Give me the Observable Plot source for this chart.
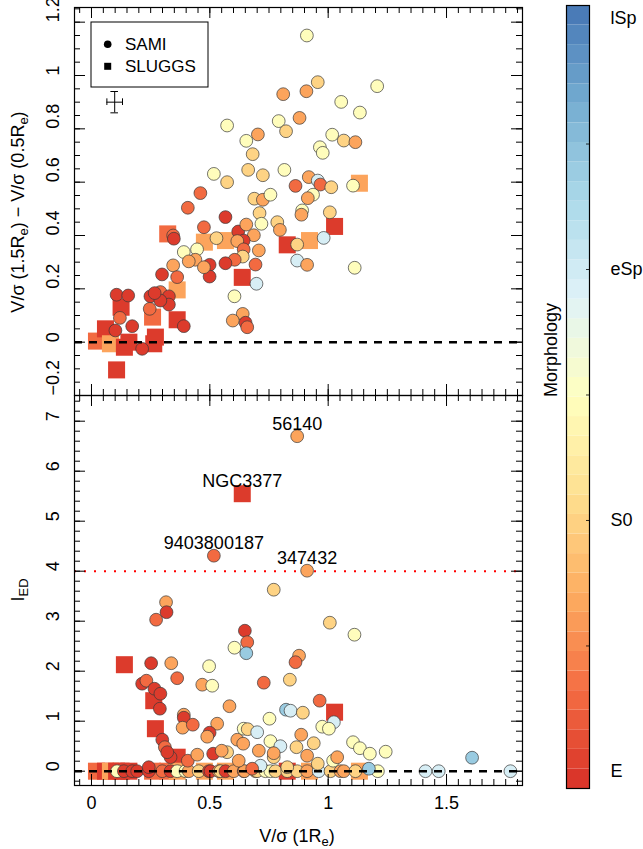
<!DOCTYPE html>
<html>
<head>
<meta charset="utf-8">
<script src="https://cdn.jsdelivr.net/npm/d3@7"></script>
<script src="https://cdn.jsdelivr.net/npm/@observablehq/plot@0.6"></script>
<style>
  body { margin: 0; background: #fff; }
  #wrap { position: relative; width: 643px; height: 849px; font-family: "Liberation Sans", Arial, Helvetica, sans-serif; }
  #wrap > div { position: absolute; }
</style>
</head>
<body>
<div id="wrap"></div>
<script>
(function () {
// ---- morphology codes (E=0, S0=1, eSp=2, lSp=3) ----
const R = 0, RO = 0.3, O = 0.65, LO = 1.0, PY = 1.47, LB = 1.95, B = 2.4;

// ---- SAMI, upper panel: [V/sigma(1Re), dV/sigma, morphology] ----
const samiTop = [
  [0.91,1.15,PY],[0.956,0.975,LO],[0.908,0.941,O],[0.81,0.93,O],[1.207,0.96,PY],[1.055,0.901,PY],
  [1.134,0.861,PY],[0.879,0.841,O],[0.791,0.829,PY],[0.822,0.791,LO],[0.573,0.8125,PY],[0.703,0.779,O],
  [0.654,0.755,PY],[1.017,0.778,PY],[1.066,0.756,LO],[1.115,0.75,O],[0.965,0.731,PY],[0.977,0.71,PY],
  [0.681,0.705,LO],[0.662,0.646,LO],[0.724,0.626,LO],[0.815,0.646,PY],[0.517,0.631,PY],[0.573,0.6,LO],
  [0.46,0.559,RO],[0.862,0.586,RO],[0.918,0.619,O],[0.956,0.606,LB],[0.967,0.591,RO],[1.013,0.581,LO],
  [1.105,0.587,PY],[0.936,0.553,PY],[0.914,0.54,O],[0.688,0.538,LO],[0.724,0.534,O],[0.756,0.553,PY],
  [0.71,0.484,LO],[0.718,0.444,PY],[0.785,0.45,LO],[0.796,0.421,O],[0.566,0.469,R],[0.475,0.431,RO],
  [0.407,0.504,RO],[0.528,0.39,LO],[0.62,0.415,R],[0.654,0.441,O],[0.686,0.401,O],[0.643,0.381,R],
  [0.616,0.379,O],[0.643,0.348,RO],[0.639,0.321,LO],[0.707,0.344,O],[0.605,0.309,RO],[0.566,0.296,R],
  [0.693,0.291,RO],[0.499,0.29,R],[0.499,0.246,R],[0.697,0.219,LB],[0.604,0.172,PY],[0.639,0.106,O],
  [0.597,0.081,O],[0.651,0.073,R],[0.658,0.056,RO],[0.869,0.366,LO],[0.981,0.391,LB],[1.007,0.487,LO],
  [0.89,0.494,PY],[0.887,0.478,O],[0.869,0.306,LB],[0.911,0.29,O],[1.112,0.279,PY],[0.446,0.348,PY],
  [0.39,0.338,PY],[0.439,0.309,O],[0.475,0.281,O],[0.411,0.303,O],[0.345,0.288,O],[0.362,0.244,RO],
  [0.298,0.254,R],[0.345,0.4,RO],[0.348,0.388,R],[0.249,0.172,R],[0.291,0.188,RO],[0.327,0.172,R],
  [0.327,0.141,R],[0.291,0.156,R],[0.267,0.184,R],[0.246,0.125,RO],[0.39,0.06,R],[0.106,0.178,R],
  [0.155,0.175,R],[0.12,0.091,RO],[0.172,0.06,R],[0.101,0.044,R],[0.214,-0.025,R]
];

// ---- SAMI, lower panel: [V/sigma(1Re), I_ED, morphology] ----
const samiBottom = [
  [0.108,0,PY],[0.137,0,R],[0.172,0,R],[0.193,0,R],[0.242,0,R],[0.299,0,RO],[0.334,0,R],[0.362,0,PY],
  [0.397,0,PY],[0.411,0,O],[0.453,0,LO],[0.496,0,R],[0.503,0,R],[0.538,0,O],[0.545,0,LO],[0.566,0,R],
  [0.601,0,O],[0.643,0,RO],[0.646,0,O],[0.693,0,O],[0.7,0,LO],[0.735,0,PY],[0.756,0,PY],[0.777,0,LO],
  [0.827,0,LO],[0.869,0,LO],[0.911,0,O],[0.96,0,LB],[1.01,0,LO],[1.052,0,O],[1.066,0,O],[1.115,0,LO],
  [1.21,0,PY],[1.411,0,LB],[1.467,0,LB],[1.77,0,LB],
  [0.242,0.08,R],[0.334,0.28,R],[0.407,0.21,RO],[0.622,0.21,O],[0.714,0.11,LB],[0.77,0.28,LO],
  [0.827,0.08,LO],[1.172,0.05,B],[0.679,0.05,RO],[0.956,0.15,LO],[1.021,0.21,PY],
  [0.869,6.7,O],[0.517,4.31,RO],[0.911,4.01,O],[0.77,3.63,LO],[0.315,3.38,O],[0.317,3.18,R],
  [0.273,3.03,RO],[1.007,2.97,LO],[1.111,2.73,PY],[0.648,2.81,R],[0.658,2.58,RO],[0.654,2.36,B],
  [0.604,2.47,PY],[0.497,2.1,PY],[0.252,2.16,R],[0.337,2.16,O],[0.362,1.86,RO],[0.214,1.75,R],
  [0.232,1.81,RO],[0.266,1.65,R],[0.291,1.55,R],[0.289,1.25,R],[0.468,1.73,O],[0.51,1.71,PY],
  [0.728,1.77,RO],[0.838,1.83,LO],[0.877,2.31,O],[0.862,2.18,RO],[0.583,1.3,O],[0.752,1.05,PY],
  [0.822,1.23,B],[0.841,1.21,LB],[0.893,1.17,LO],[0.964,1.41,RO],[1.024,0.98,LB],[0.975,0.89,PY],
  [1.003,0.85,PY],[0.39,1.13,O],[0.39,1.07,R],[0.385,0.87,O],[0.428,0.93,RO],[0.299,0.63,R],
  [0.31,0.48,RO],[0.32,0.38,R],[0.531,0.95,O],[0.499,0.77,R],[0.489,0.69,O],[0.447,0.33,O],
  [0.514,0.35,R],[0.573,0.38,LO],[0.55,0.41,O],[0.616,0.63,O],[0.643,0.85,PY],[0.66,0.84,LO],
  [0.7,0.78,LB],[0.641,0.55,O],[0.707,0.41,O],[0.756,0.6,PY],[0.798,0.5,LB],[0.77,0.36,O],
  [0.866,0.48,LO],[0.886,0.73,O],[0.939,0.56,LO],[0.911,0.31,O],[1.038,0.28,O],[1.105,0.58,PY],
  [1.134,0.46,PY],[1.176,0.35,PY],[1.243,0.39,PY],[1.608,0.27,B]
];

// ---- SLUGGS (same galaxies in both panels) ----
const sluggsX     = [0.021,0.059,0.08,0.106,0.125,0.139,0.158,0.258,0.263,0.27,0.322,0.362,0.362,0.477,0.566,0.637,0.827,0.921,1.027,1.132];
const sluggsDV    = [0.004,0.05,-0.006,-0.104,0.131,-0.019,0.0,0.094,-0.006,0.019,0.406,0.084,0.196,0.375,0.381,0.243,0.365,0.381,0.434,0.596];
const sluggsIED   = [0,0,0,0,0,2.13,0,0,1.41,0.85,0,0.28,0,0,0,5.55,0,0,1.18,0];
const sluggsMorph = [RO,R,O,R,R,R,R,RO,R,R,RO,R,O,O,O,R,R,O,R,O];

// ---- labelled outliers in the I_ED panel ----
const labelNames = ["56140","NGC3377","9403800187","347432"];
const labelX     = [0.869,0.637,0.517,0.911];
const labelY     = [6.7,5.55,4.31,4.01];

// ---- typical error bar ----
const errX = 0.098, errY = 0.9, errDX = 0.033, errDY = 0.04;

// ---- ticks ----
const xTicks = [0,0.5,1,1.5];
const xTickLabels = ["0","0.5","1","1.5"];
const topYTicks = [-0.2,0,0.2,0.4,0.6,0.8,1,1.2];
const topYLabels = ["\u22120.2","0","0.2","0.4","0.6","0.8","1","1.2"];
const botYTicks = [0,1,2,3,4,5,6,7];
const botYLabels = ["0","1","2","3","4","5","6","7"];
const morphTicks = [0,1,2,3];
const morphLabels = ["E","S0","eSp","lSp"];
const iedThreshold = 4;

// ---- scales / styling ----
const FONT = '"Liberation Sans", Arial, Helvetica, sans-serif';
const FS = 18;
const scheme = ["#d73027","#f46d43","#fdae61","#fee090","#ffffbf","#e0f3f8","#abd9e9","#74add1","#4575b4"];
const ramp = d3.piecewise(d3.interpolateRgb, scheme);
const morphDomain = [-0.068, 3.052];
const colorScale = {type: "linear", domain: morphDomain, interpolate: ramp};
const xDomain = [-0.0718, 1.821];
const PW = 448;

const xMinor = d3.range(-0.05, 1.8001, 0.05);
const topYMinor = d3.range(-0.2, 1.2501, 0.05);
const botYMinor = d3.range(-0.2, 7.5, 0.2);

function frameTicks(xMaj, xMin, yMaj, yMin, ph) {
  const T = 11, t = 6, s = {stroke: "black", strokeWidth: 1};
  return [
    Plot.tickX(xMin, {x: d => d, insetBottom: ph - t, ...s}),
    Plot.tickX(xMaj, {x: d => d, insetBottom: ph - T, ...s}),
    Plot.tickX(xMin, {x: d => d, insetTop: ph - t, ...s}),
    Plot.tickX(xMaj, {x: d => d, insetTop: ph - T, ...s}),
    Plot.tickY(yMin, {y: d => d, insetRight: PW - t, ...s}),
    Plot.tickY(yMaj, {y: d => d, insetRight: PW - T, ...s}),
    Plot.tickY(yMin, {y: d => d, insetLeft: PW - t, ...s}),
    Plot.tickY(yMaj, {y: d => d, insetLeft: PW - T, ...s}),
    Plot.frame({stroke: "black", strokeWidth: 1.2})
  ];
}

const baseStyle = {fontFamily: FONT, fontSize: FS + "px", overflow: "visible", background: "transparent"};
const circleOpts = {r: 6.4, stroke: "#3a3a3a", strokeWidth: 0.7, symbol: "circle"};
const squareOpts = {r: 9.6, symbol: "square"};
const sIdx = d3.range(sluggsX.length);

// ---- upper panel ----
const upperPlot = Plot.plot({
  width: 540, height: 395, marginLeft: 74, marginRight: 18, marginTop: 7, marginBottom: 0,
  x: {domain: xDomain, axis: null},
  y: {domain: [-0.2, 1.255], axis: null},
  color: colorScale,
  style: baseStyle,
  marks: [
    Plot.dot(sIdx, {x: i => sluggsX[i], y: i => sluggsDV[i], fill: i => sluggsMorph[i], ...squareOpts}),
    Plot.dot(samiTop, {x: d => d[0], y: d => d[1], fill: d => d[2], ...circleOpts}),
    Plot.ruleY([0], {stroke: "black", strokeWidth: 2.5, strokeDasharray: "8,7"}),
    Plot.ruleX([errX], {y1: errY - errDY, y2: errY + errDY, stroke: "black", strokeWidth: 1}),
    Plot.ruleY([errY], {x1: errX - errDX, x2: errX + errDX, stroke: "black", strokeWidth: 1}),
    Plot.ruleY([errY - errDY, errY + errDY], {x1: errX - 0.016, x2: errX + 0.016, stroke: "black", strokeWidth: 1}),
    Plot.ruleX([errX - errDX, errX + errDX], {y1: errY - 0.0125, y2: errY + 0.0125, stroke: "black", strokeWidth: 1}),
    Plot.text(topYTicks, {y: d => d, text: (d, i) => topYLabels[i], frameAnchor: "left", dx: -21, rotate: -90, fontSize: FS}),
    ...frameTicks(xTicks, xMinor, [0,0.2,0.4,0.6,0.8,1,1.2], topYMinor, 388)
  ]
});

// ---- lower panel ----
const lIdx = d3.range(labelNames.length);
const lowerPlot = Plot.plot({
  width: 540, height: 454, marginLeft: 74, marginRight: 18, marginTop: 0, marginBottom: 64,
  x: {domain: xDomain, axis: null},
  y: {domain: [-0.286, 7.514], axis: null},
  color: colorScale,
  style: baseStyle,
  marks: [
    Plot.ruleY([iedThreshold], {stroke: "#ff0000", strokeWidth: 2, strokeDasharray: "2,8"}),
    Plot.dot(sIdx, {x: i => sluggsX[i], y: i => sluggsIED[i], fill: i => sluggsMorph[i], ...squareOpts}),
    Plot.dot(samiBottom, {x: d => d[0], y: d => d[1], fill: d => d[2], ...circleOpts}),
    Plot.ruleY([0], {stroke: "black", strokeWidth: 2.5, strokeDasharray: "8,7"}),
    Plot.text(lIdx, {x: i => labelX[i], y: i => labelY[i], text: i => labelNames[i], dy: -12, fontSize: FS}),
    Plot.text(botYTicks, {y: d => d, text: (d, i) => botYLabels[i], frameAnchor: "left", dx: -21, rotate: -90, fontSize: FS}),
    Plot.text(xTicks, {x: d => d, text: (d, i) => xTickLabels[i], frameAnchor: "bottom", dy: 23, fontSize: FS}),
    ...frameTicks(xTicks, xMinor, botYTicks, botYMinor, 390)
  ]
});

// ---- colour bar ----
const nBands = 40;
const bw = (morphDomain[1] - morphDomain[0]) / nBands;
const bands = d3.range(nBands).map(i => ({lo: morphDomain[0] + i * bw, hi: morphDomain[0] + (i + 1) * bw, mid: morphDomain[0] + (i + 0.5) * bw}));
const barPlot = Plot.plot({
  width: 113, height: 849, marginLeft: 36, marginRight: 54, marginTop: 5, marginBottom: 61,
  x: {domain: [0, 1], axis: null},
  y: {domain: morphDomain, axis: null},
  color: colorScale,
  style: baseStyle,
  marks: [
    Plot.rect(bands, {x1: 0, x2: 1, y1: d => d.lo, y2: d => d.hi, fill: d => d.mid}),
    Plot.tickY([0.5, 1, 1.5, 2, 2.5], {y: d => d, insetLeft: 20, stroke: "black", strokeWidth: 0.8}),
    Plot.frame({stroke: "black", strokeWidth: 1.2}),
    Plot.text(morphTicks, {y: d => d, text: (d, i) => morphLabels[i], frameAnchor: "right", dx: 21, textAnchor: "start", fontSize: FS}),
    Plot.text(["Morphology"], {frameAnchor: "left", dx: -15, rotate: -90, fontSize: FS})
  ]
});

const wrap = d3.select("#wrap");
function place(node, left, topPx) {
  wrap.append("div").style("left", left + "px").style("top", topPx + "px").node().appendChild(node);
}
place(upperPlot, 0, 0);
place(lowerPlot, 0, 395);
place(barPlot, 530, 0);

// ---- overlay: axis titles with subscripts, symbol legend ----
const ov = wrap.append("div").style("left", "0px").style("top", "0px")
  .append("svg").attr("width", 643).attr("height", 849)
  .style("font-family", FONT).style("font-size", FS + "px").style("pointer-events", "none");

function richText(g, parts) {
  const t = g.append("text").attr("text-anchor", "middle").attr("dominant-baseline", "central");
  let sub = false;
  for (const p of parts) {
    const isSub = typeof p === "object";
    const ts = t.append("tspan").text(isSub ? p.sub : p);
    if (isSub && !sub) ts.attr("dy", 5).attr("font-size", 13);
    else if (!isSub && sub) ts.attr("dy", -5);
    else if (isSub) ts.attr("font-size", 13);
    sub = isSub;
  }
  return t;
}
richText(ov.append("g").attr("transform", "translate(18,212) rotate(-90)"),
  ["V/\u03C3 (1.5R", {sub: "e"}, ") \u2212 V/\u03C3 (0.5R", {sub: "e"}, ")"]);
richText(ov.append("g").attr("transform", "translate(18,590) rotate(-90)"),
  ["I", {sub: "ED"}]);
richText(ov.append("g").attr("transform", "translate(297,836)"),
  ["V/\u03C3 (1R", {sub: "e"}, ")"]);

const lg = ov.append("g").attr("transform", "translate(91,22)");
lg.append("rect").attr("width", 117).attr("height", 65).attr("fill", "white").attr("stroke", "black").attr("stroke-width", 1);
lg.append("circle").attr("cx", 16.7).attr("cy", 22.3).attr("r", 3.8).attr("fill", "black");
lg.append("rect").attr("x", 13.2).attr("y", 40.8).attr("width", 7).attr("height", 7).attr("fill", "black");
lg.append("text").attr("x", 34).attr("y", 22.3).attr("dominant-baseline", "central").attr("font-size", 17).text("SAMI");
lg.append("text").attr("x", 34).attr("y", 44.3).attr("dominant-baseline", "central").attr("font-size", 17).text("SLUGGS");
})();
</script>
</body>
</html>
